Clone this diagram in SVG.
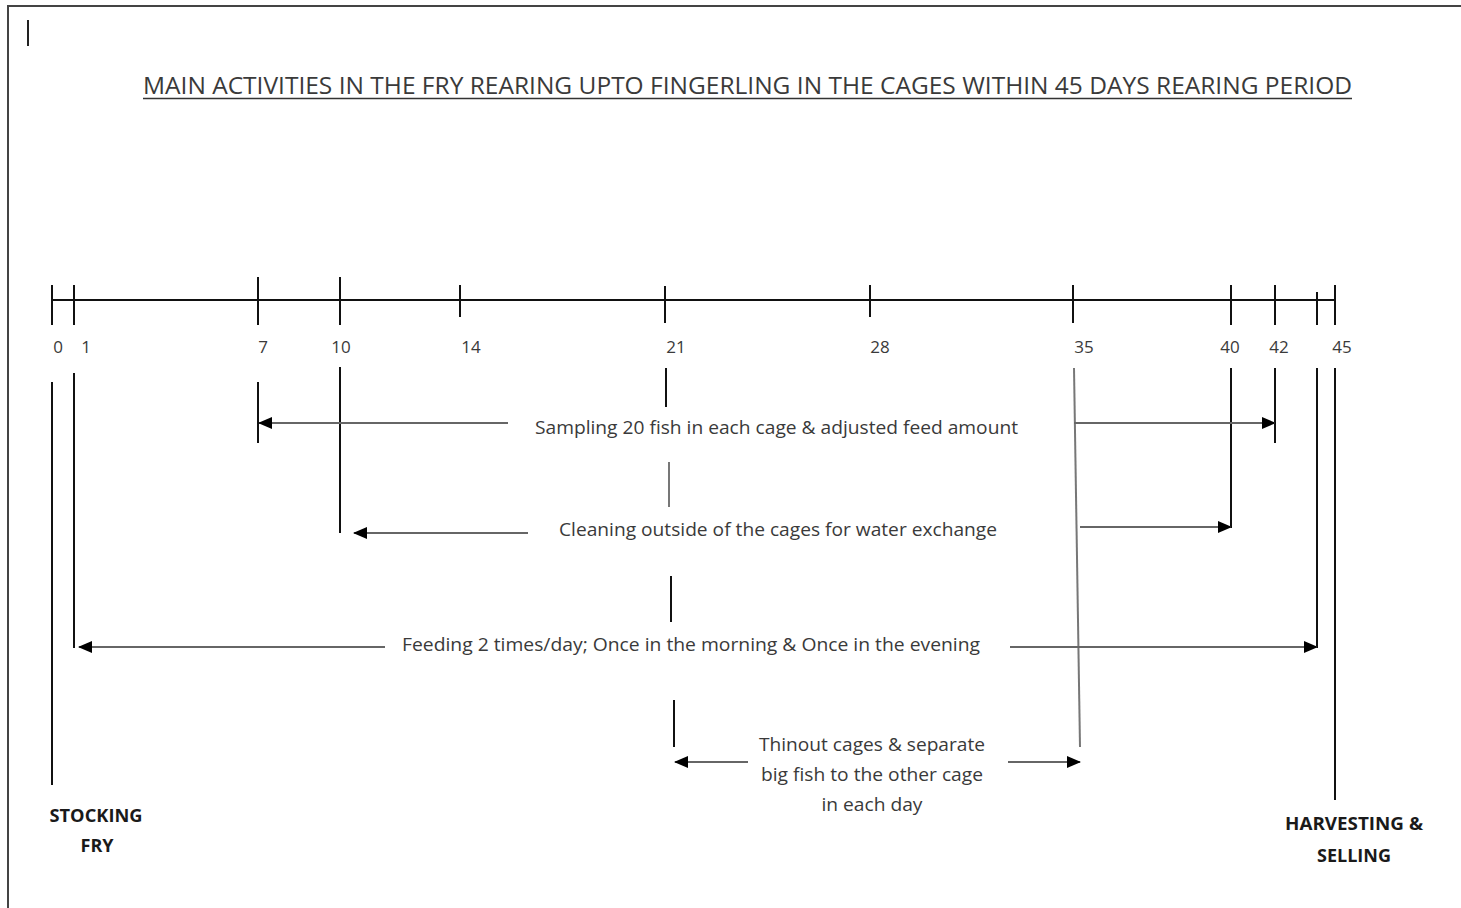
<svg xmlns="http://www.w3.org/2000/svg" width="1461" height="908" viewBox="0 0 1461 908">
<style>
.t{font-family:"Open Sans","Liberation Sans",sans-serif;fill:#3a3a3a;}
.n{font-size:17px;text-anchor:middle;}
.a{font-size:18px;}
.b{font-family:"Open Sans","Liberation Sans",sans-serif;font-weight:bold;font-size:18px;fill:#1a1a1a;text-anchor:middle;}
.ax{stroke:#111;stroke-width:2;fill:none;}
.v{stroke:#111;stroke-width:2;fill:none;}
.g{stroke:#777;stroke-width:2;fill:none;}
.ar{stroke:#666;stroke-width:2;fill:none;marker-end:url(#ah);}
</style>
<defs>
<marker id="ah" markerUnits="userSpaceOnUse" markerWidth="14" markerHeight="12" refX="13" refY="6" orient="auto">
<path d="M0,0 L14,6 L0,12 z" fill="#000"/>
</marker>
</defs>
<rect width="1461" height="908" fill="#fff"/>
<g id="frame">
<polyline points="8,908 8,6 1461,6" fill="none" stroke="#444" stroke-width="2"/>
<line x1="28" y1="20" x2="28" y2="46" stroke="#222" stroke-width="2"/>
</g>
<g id="title">
<text class="t" x="143" y="94" font-size="23" textLength="1209" lengthAdjust="spacingAndGlyphs">MAIN ACTIVITIES IN THE FRY REARING UPTO FINGERLING IN THE CAGES WITHIN 45 DAYS REARING PERIOD</text>
<line x1="143" y1="98.5" x2="1352" y2="98.5" stroke="#333" stroke-width="1.5"/>
</g>
<g id="timeline">
<line class="ax" x1="52" y1="300" x2="1335" y2="300"/>
<line class="ax" x1="52" y1="285" x2="52" y2="325"/>
<line class="ax" x1="74" y1="285" x2="74" y2="325"/>
<line class="ax" x1="258" y1="277" x2="258" y2="325"/>
<line class="ax" x1="340" y1="277" x2="340" y2="325"/>
<line class="ax" x1="460" y1="285" x2="460" y2="317"/>
<line class="ax" x1="665" y1="286" x2="665" y2="323"/>
<line class="ax" x1="870" y1="285" x2="870" y2="317"/>
<line class="ax" x1="1073" y1="285" x2="1073" y2="323"/>
<line class="ax" x1="1231" y1="285" x2="1231" y2="325"/>
<line class="ax" x1="1275" y1="285" x2="1275" y2="325"/>
<line class="ax" x1="1317" y1="292" x2="1317" y2="325"/>
<line class="ax" x1="1335" y1="285" x2="1335" y2="325"/>
</g>
<g id="day-labels">
<text class="t n" x="58" y="353">0</text>
<text class="t n" x="86" y="353">1</text>
<text class="t n" x="263" y="353">7</text>
<text class="t n" x="341" y="353">10</text>
<text class="t n" x="471" y="353">14</text>
<text class="t n" x="676" y="353">21</text>
<text class="t n" x="880" y="353">28</text>
<text class="t n" x="1084" y="353">35</text>
<text class="t n" x="1230" y="353">40</text>
<text class="t n" x="1279" y="353">42</text>
<text class="t n" x="1342" y="353">45</text>
</g>
<g id="sampling">
<text class="t a" x="535" y="434" textLength="483" lengthAdjust="spacingAndGlyphs">Sampling 20 fish in each cage &amp; adjusted feed amount</text>
</g>
<g id="cleaning">
<text class="t a" x="559" y="536" textLength="438" lengthAdjust="spacingAndGlyphs">Cleaning outside of the cages for water exchange</text>
</g>
<g id="feeding">
<text class="t a" x="402" y="651" textLength="578" lengthAdjust="spacingAndGlyphs">Feeding 2 times/day; Once in the morning &amp; Once in the evening</text>
</g>
<g id="thinout">
<text class="t a" x="872" y="751" text-anchor="middle" textLength="226" lengthAdjust="spacingAndGlyphs">Thinout cages &amp; separate</text>
<text class="t a" x="872" y="781" text-anchor="middle" textLength="222" lengthAdjust="spacingAndGlyphs">big fish to the other cage</text>
<text class="t a" x="872" y="811" text-anchor="middle" textLength="101" lengthAdjust="spacingAndGlyphs">in each day</text>
</g>
<g id="stocking">
<text class="b" x="96" y="822" textLength="93" lengthAdjust="spacingAndGlyphs">STOCKING</text>
<text class="b" x="97" y="852">FRY</text>
</g>
<g id="harvesting">
<text class="b" x="1354" y="830" textLength="138" lengthAdjust="spacingAndGlyphs">HARVESTING &amp;</text>
<text class="b" x="1354" y="862" textLength="74" lengthAdjust="spacingAndGlyphs">SELLING</text>
</g>
<g id="connectors">
<line class="v" x1="52" y1="382" x2="52" y2="785"/>
<line class="v" x1="74" y1="373" x2="74" y2="648"/>
<line class="v" x1="258" y1="382" x2="258" y2="443"/>
<line class="v" x1="340" y1="367" x2="340" y2="533"/>
<line class="v" x1="666" y1="368" x2="666" y2="407"/>
<line class="g" x1="669" y1="462" x2="669" y2="507"/>
<line class="v" x1="671" y1="576" x2="671" y2="622"/>
<line class="v" x1="674" y1="700" x2="674" y2="747"/>
<line class="g" x1="1074" y1="368" x2="1080" y2="747"/>
<line class="v" x1="1231" y1="368" x2="1231" y2="528"/>
<line class="v" x1="1275" y1="368" x2="1275" y2="443"/>
<line class="v" x1="1317" y1="368" x2="1317" y2="648"/>
<line class="v" x1="1335" y1="368" x2="1335" y2="800"/>
<line class="ar" x1="508" y1="423" x2="259" y2="423"/>
<line class="ar" x1="1074" y1="423" x2="1275" y2="423"/>
<line class="ar" x1="528" y1="533" x2="354" y2="533"/>
<line class="ar" x1="1080" y1="527" x2="1231" y2="527"/>
<line class="ar" x1="385" y1="647" x2="79" y2="647"/>
<line class="ar" x1="1010" y1="647" x2="1317" y2="647"/>
<line class="ar" x1="748" y1="762" x2="675" y2="762"/>
<line class="ar" x1="1008" y1="762" x2="1080" y2="762"/>
</g>
</svg>
